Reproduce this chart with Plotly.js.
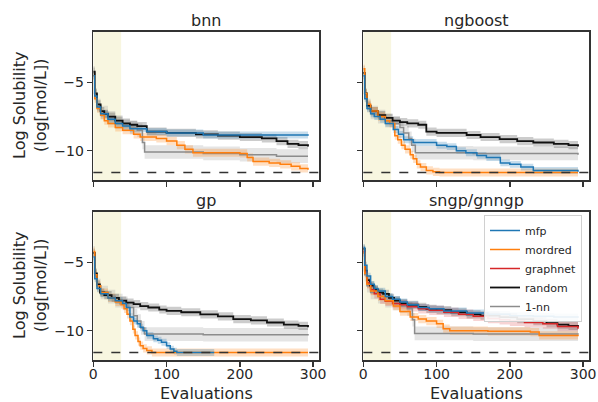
<!DOCTYPE html>
<html>
<head>
<meta charset="utf-8">
<script src="https://cdn.plot.ly/plotly-3.0.1.min.js"></script>
<style>html,body{margin:0;padding:0;background:#fff;}#chart{width:598px;height:402px;}</style>
</head>
<body>
<div id="chart"></div>
<script>
// ---------- data ----------
const panelTitles = ["bnn", "ngboost", "gp", "sngp/gnngp"];
const seriesNames = ["mfp", "mordred", "graphnet", "random", "1-nn"];
const xTicks = [0, 100, 200, 300];
const yTicks = [-10, -5];
const initialDesignEnd = 38;      // shaded initial-design region
const globalOptimum = -11.6;      // dashed line

// bnn
const bnn_mfp_x = [0,2,5,10,20,30,40,50,73,100,150,293];
const bnn_mfp_y = [-4.5,-6.0,-6.8,-7.3,-7.7,-8.0,-8.2,-8.4,-8.6,-8.7,-8.85,-8.9];
const bnn_mordred_x = [0,2,5,10,15,20,30,40,55,64,86,100,114,125,136,200,210,218,240,255,270,282,293];
const bnn_mordred_y = [-4.5,-6.2,-6.9,-7.4,-7.8,-8.0,-8.3,-8.5,-8.8,-9.0,-9.1,-9.3,-9.6,-9.9,-10.15,-10.2,-10.5,-10.8,-10.9,-11.0,-11.15,-11.3,-11.4];
const bnn_random_x = [0,2,5,10,15,20,30,40,50,60,73,100,140,170,200,230,250,265,280,293];
const bnn_random_y = [-4.2,-5.8,-6.6,-7.1,-7.3,-7.5,-7.8,-8.0,-8.1,-8.2,-8.6,-8.7,-8.8,-8.9,-9.0,-9.1,-9.3,-9.5,-9.6,-9.7];
const bnn_nn_x = [0,2,5,10,20,30,40,50,60,67,70,150,200,250,293];
const bnn_nn_y = [-4.3,-5.9,-6.7,-7.2,-7.6,-7.9,-8.1,-8.3,-8.5,-9.4,-10.1,-10.2,-10.3,-10.4,-10.4];

// ngboost
const ngb_mfp_x = [0,2,5,10,15,23,30,41,48,55,68,100,114,127,140,155,168,187,200,215,232,293];
const ngb_mfp_y = [-4.5,-6.2,-6.9,-7.3,-7.5,-7.7,-8.0,-8.45,-8.8,-9.2,-9.4,-9.6,-9.7,-10.0,-10.15,-10.35,-10.5,-10.9,-11.0,-11.2,-11.45,-11.55];
const ngb_mordred_x = [0,2,5,10,20,30,36,43,47,52,57,64,68,73,78,86,95,104,293];
const ngb_mordred_y = [-4.0,-5.8,-6.6,-7.1,-7.5,-7.8,-8.0,-8.9,-9.2,-9.6,-9.9,-10.3,-10.6,-11.0,-11.2,-11.45,-11.55,-11.6,-11.6];
const ngb_random_x = [0,2,5,10,20,30,40,50,60,75,86,100,141,160,186,210,232,260,280,293];
const ngb_random_y = [-4.3,-5.8,-6.7,-7.1,-7.4,-7.6,-7.8,-7.9,-8.0,-8.1,-8.6,-8.7,-8.85,-9.0,-9.15,-9.3,-9.4,-9.5,-9.6,-9.7];
const ngb_nn_x = [0,2,5,10,20,30,40,50,55,62,66,71,150,293];
const ngb_nn_y = [-4.3,-5.9,-6.7,-7.2,-7.5,-7.8,-8.0,-8.3,-8.7,-9.1,-9.6,-10.15,-10.2,-10.3];

// gp
const gp_mfp_x = [0,2,5,10,20,30,40,45,50,55,60,64,68,73,82,88,93,100,105,110,114,165];
const gp_mfp_y = [-4.6,-6.2,-6.9,-7.3,-7.6,-7.8,-8.0,-8.3,-9.0,-9.3,-9.5,-9.75,-10.0,-10.35,-10.6,-10.7,-10.85,-11.1,-11.35,-11.5,-11.6,-11.6];
const gp_mordred_x = [0,2,5,10,20,30,38,42,46,50,54,57,61,64,68,73,80,293];
const gp_mordred_y = [-4.2,-5.9,-6.7,-7.2,-7.6,-7.9,-8.1,-8.4,-8.8,-9.3,-9.9,-10.35,-10.8,-11.1,-11.3,-11.45,-11.6,-11.6];
const gp_random_x = [0,2,5,9,15,25,35,45,55,64,75,90,100,120,146,170,191,215,237,260,280,293];
const gp_random_y = [-4.3,-5.8,-6.6,-7.2,-7.4,-7.6,-7.8,-7.95,-8.05,-8.2,-8.3,-8.45,-8.55,-8.65,-8.8,-8.95,-9.15,-9.25,-9.4,-9.55,-9.65,-9.75];
const gp_nn_x = [0,2,5,10,20,30,40,47,55,60,65,70,150,293];
const gp_nn_y = [-4.3,-5.9,-6.7,-7.2,-7.5,-7.8,-8.0,-8.3,-8.9,-9.3,-9.8,-10.25,-10.3,-10.35];

// sngp/gnngp
const sngp_mfp_x = [0,2,5,10,15,20,30,40,50,60,75,90,110,141,170,200,232,260,293];
const sngp_mfp_y = [-3.9,-5.2,-6.0,-6.6,-6.9,-7.1,-7.5,-7.7,-7.9,-8.1,-8.3,-8.4,-8.55,-8.7,-8.8,-8.9,-8.95,-9.0,-9.05];
const sngp_mordred_x = [0,2,5,10,20,30,41,50,64,75,86,100,109,118,170,228,240,293];
const sngp_mordred_y = [-4.3,-5.8,-6.6,-7.1,-7.5,-7.8,-8.2,-8.6,-9.0,-9.15,-9.3,-9.5,-9.85,-10.0,-10.05,-10.1,-10.35,-10.4];
const sngp_graphnet_x = [0,2,5,10,15,23,30,40,50,60,75,90,110,130,150,170,186,200,220,245,265,293];
const sngp_graphnet_y = [-4.2,-5.7,-6.5,-7.0,-7.3,-7.7,-7.85,-8.0,-8.1,-8.25,-8.4,-8.5,-8.65,-8.8,-8.95,-9.1,-9.2,-9.3,-9.4,-9.5,-9.7,-9.85];
const sngp_random_x = [0,2,5,9,15,20,27,35,42,50,60,75,86,100,120,141,160,186,210,232,250,265,280,293];
const sngp_random_y = [-4.0,-5.6,-6.3,-6.7,-7.0,-7.2,-7.3,-7.6,-7.8,-8.0,-8.1,-8.25,-8.4,-8.5,-8.65,-8.8,-8.9,-9.0,-9.15,-9.3,-9.45,-9.55,-9.65,-9.75];
const sngp_nn_x = [0,2,5,10,20,30,40,50,60,67,70,150,293];
const sngp_nn_y = [-4.3,-5.9,-6.7,-7.2,-7.5,-7.8,-8.0,-8.2,-8.4,-9.2,-10.2,-10.25,-10.3];

// band half-widths (spread across runs)
const bandHalfWidth = {mfp: 0.25, mordred: 0.3, graphnet: 0.35, random: 0.3, "1-nn": 0.5};

// ---------- styling ----------
const lineColor = {mfp:"#1f77b4", mordred:"#ff7f0e", graphnet:"#d62728", random:"#111111", "1-nn":"#8c8c8c"};
const bandColor = {mfp:"rgba(31,119,180,0.25)", mordred:"rgba(255,127,14,0.25)", graphnet:"rgba(214,39,40,0.2)", random:"rgba(0,0,0,0.2)", "1-nn":"rgba(150,150,150,0.25)"};
const lineWidth = {mfp:1.5, mordred:1.5, graphnet:1.5, random:1.8, "1-nn":1.5};

const panels = [
  {mfp:[bnn_mfp_x,bnn_mfp_y], mordred:[bnn_mordred_x,bnn_mordred_y], random:[bnn_random_x,bnn_random_y], "1-nn":[bnn_nn_x,bnn_nn_y]},
  {mfp:[ngb_mfp_x,ngb_mfp_y], mordred:[ngb_mordred_x,ngb_mordred_y], random:[ngb_random_x,ngb_random_y], "1-nn":[ngb_nn_x,ngb_nn_y]},
  {mfp:[gp_mfp_x,gp_mfp_y], mordred:[gp_mordred_x,gp_mordred_y], random:[gp_random_x,gp_random_y], "1-nn":[gp_nn_x,gp_nn_y]},
  {mfp:[sngp_mfp_x,sngp_mfp_y], mordred:[sngp_mordred_x,sngp_mordred_y], graphnet:[sngp_graphnet_x,sngp_graphnet_y], random:[sngp_random_x,sngp_random_y], "1-nn":[sngp_nn_x,sngp_nn_y]}
];
const drawOrder = ["1-nn", "random", "graphnet", "mordred", "mfp"];

const traces = [];
panels.forEach((p, i) => {
  const xa = i === 0 ? "x" : "x" + (i + 1);
  const ya = i === 0 ? "y" : "y" + (i + 1);
  drawOrder.forEach(name => {
    if (!p[name]) return;
    const [xs, ys] = p[name];
    const hw = bandHalfWidth[name];
    traces.push({x: xs, y: ys.map(v => v + hw), xaxis: xa, yaxis: ya, mode: "lines",
      line: {width: 0, shape: "hv"}, showlegend: false, hoverinfo: "skip"});
    traces.push({x: xs, y: ys.map(v => v - hw), xaxis: xa, yaxis: ya, mode: "lines",
      line: {width: 0, shape: "hv"}, fill: "tonexty", fillcolor: bandColor[name], showlegend: false, hoverinfo: "skip"});
  });
  drawOrder.forEach(name => {
    if (!p[name]) return;
    const [xs, ys] = p[name];
    traces.push({x: xs, y: ys, xaxis: xa, yaxis: ya, mode: "lines", name: name,
      line: {color: lineColor[name], width: lineWidth[name], shape: "hv"},
      showlegend: i === 3, legendrank: seriesNames.indexOf(name) + 1});
  });
});

// ---------- layout ----------
const W = 598, H = 402;
const colX = [[93.3, 319], [363.3, 589]];
const rowY = [[32, 180], [212, 360]];
const font = "DejaVu Sans, sans-serif";
const ink = "#262626";

const layout = {
  width: W, height: H,
  margin: {l: 0, r: 0, t: 0, b: 0},
  paper_bgcolor: "#fff", plot_bgcolor: "#fff",
  font: {family: font, color: ink},
  showlegend: true,
  legend: {x: 582 / W, xanchor: "right", y: 1 - 215 / H, yanchor: "top", traceorder: "normal",
    bgcolor: "rgba(255,255,255,0.9)", bordercolor: "#d0d0d0", borderwidth: 1,
    font: {size: 11, family: font, color: ink}, tracegroupgap: 0},
  shapes: [], annotations: []
};

for (let i = 0; i < 4; i++) {
  const r = Math.floor(i / 2), c = i % 2;
  const sfx = i === 0 ? "" : String(i + 1);
  const xa = "x" + sfx, ya = "y" + sfx;
  layout["xaxis" + sfx] = {
    domain: [colX[c][0] / W, colX[c][1] / W], anchor: ya, range: [0, 308],
    tickvals: xTicks, ticktext: xTicks.map(String), showticklabels: r === 1,
    ticks: "outside", ticklen: 5, tickwidth: 1.3, tickcolor: "#333", ticklabelstandoff: -4,
    showline: true, mirror: true, linecolor: "#333", linewidth: 1.6,
    showgrid: false, zeroline: false, tickfont: {size: 14, family: font, color: ink}
  };
  layout["yaxis" + sfx] = {
    domain: [1 - rowY[r][1] / H, 1 - rowY[r][0] / H], anchor: xa, range: [-12.15, -1.3],
    tickvals: yTicks, showticklabels: c === 0,
    ticks: "outside", ticklen: 5, tickwidth: 1.3, tickcolor: "#333",
    showline: true, mirror: true, linecolor: "#333", linewidth: 1.6,
    showgrid: false, zeroline: false, tickfont: {size: 14, family: font, color: ink}
  };
  layout.shapes.push({type: "rect", xref: xa, yref: ya + " domain", x0: 0, x1: initialDesignEnd, y0: 0, y1: 1,
    fillcolor: "#f8f6e0", line: {width: 0}, layer: "below"});
  layout.shapes.push({type: "line", xref: xa + " domain", yref: ya, x0: 0, x1: 1, y0: globalOptimum, y1: globalOptimum,
    line: {color: "#333", width: 1.5, dash: "dash"}, layer: "above"});
  layout.annotations.push({text: panelTitles[i], xref: "paper", yref: "paper",
    x: (colX[c][0] + colX[c][1]) / 2 / W, y: 1 - rowY[r][0] / H, xanchor: "center", yanchor: "bottom",
    yshift: 0, showarrow: false, font: {size: 16, family: font, color: ink}});
  if (c === 0) {
    layout.annotations.push({text: "Log Solubility<br>(log[mol/L])", xref: "paper", yref: "paper",
      x: 30 / W, y: 1 - (rowY[r][0] + rowY[r][1]) / 2 / H, xanchor: "center", yanchor: "middle",
      textangle: -90, showarrow: false, font: {size: 16, family: font, color: ink}});
  }
  if (r === 1) {
    layout.annotations.push({text: "Evaluations", xref: "paper", yref: "paper",
      x: (colX[c][0] + colX[c][1]) / 2 / W, y: 0, xanchor: "center", yanchor: "bottom",
      yshift: -2, borderpad: 0, showarrow: false, font: {size: 16, family: font, color: ink}});
  }
}

Plotly.newPlot("chart", traces, layout, {staticPlot: true, displayModeBar: false});
</script>
</body>
</html>
